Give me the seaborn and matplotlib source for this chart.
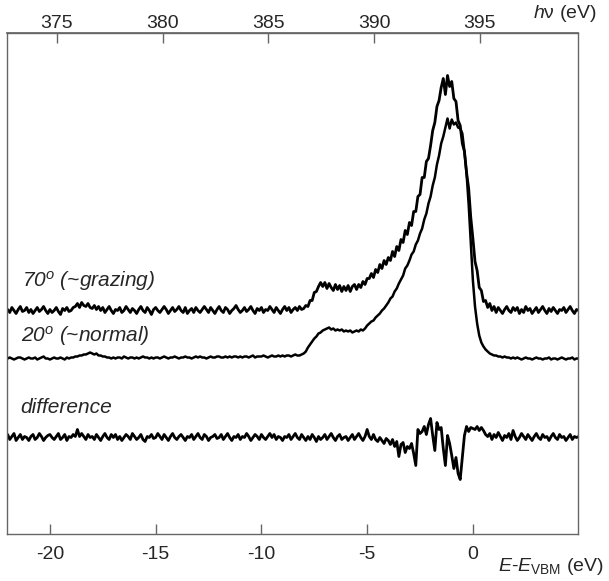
import numpy as np
import pandas as pd
import matplotlib
matplotlib.use("Agg")
import matplotlib.pyplot as plt
import seaborn as sns

sns.set_theme(style="white")
plt.rcParams["font.family"] = ["Liberation Sans", "DejaVu Sans"]
plt.rcParams["mathtext.fontset"] = "custom"
plt.rcParams["mathtext.rm"] = "Liberation Sans"
plt.rcParams["mathtext.it"] = "Liberation Sans:italic"
plt.rcParams["mathtext.bf"] = "Liberation Sans:bold"

# ---------------- data ----------------
energy = np.round(np.linspace(-22.0, 5.0, 271), 1)   # E - E_VBM (eV), 0.1 eV steps

grazing_70 = [
    1, -2, 3, 0, -3, 1, 4, -1, 0, 3,
    -2, 1, -3, 0, 3, -1, 1, 4, 0, -3,
    1, -2, 0, 3, -1, -4, 2, 0, 3, -1,
    0, 3, 4, 7, 3, 8, 5, 4, 7, 3,
    2, 5, 1, 4, 0, 3, -2, 1, 4, 0,
    -3, 1, 0, 3, -2, 0, 4, 1, -2, 2,
    0, -3, 1, 4, 0, -2, 3, 0, -4, 1,
    3, 0, -2, 1, 4, 1, -3, 0, 3, -1,
    1, 4, 0, -2, 3, -3, 0, 2, -2, 3,
    0, -2, 1, 4, 1, -2, 3, 0, -3, 1,
    4, 0, -2, 3, 1, -3, 0, 2, 5, 1,
    -2, 0, 3, -1, 1, 4, 0, -3, 2, 0,
    3, -2, 1, 0, 4, 1, -2, 3, 0, -3,
    1, 4, 0, 3, -2, 1, 3, 0, 4, 1,
    2, 5, 4, 10, 10, 18, 19, 24, 28, 24,
    28, 22, 27, 23, 20, 26, 21, 25, 19, 24,
    20, 25, 19, 24, 26, 21, 26, 23, 29, 26,
    32, 32, 37, 33, 41, 38, 46, 42, 50, 46,
    53, 50, 59, 54, 64, 60, 71, 68, 80, 76,
    88, 85, 99, 99, 114, 116, 133, 133, 149, 152,
    165, 180, 188, 204, 210, 223, 232, 216, 235, 224,
    229, 212, 209, 190, 185, 167, 159, 138, 122, 93,
    72, 49, 40, 23, 20, 9, 10, 3, 7, 0,
    4, -2, 3, 0, -3, 1, 4, 0, -2, 3,
    0, 3, -3, 1, -2, 4, 0, 2, -3, 0,
    3, -2, 1, 4, 0, -3, 2, -1, 3, 0,
    -3, 1, 0, 3, -2, 1, 4, 0, -3, 1,
    0,
]

normal_20 = [
    0, 1, 0, -1, 0, 1, 1, 0, -1, 0,
    1, 0, 0, 1, -1, 0, 1, 2, 0, 0,
    -1, 0, 1, 0, 0, 1, 0, -1, 1, 0,
    1, 1, 2, 2, 3, 3, 4, 4, 5, 6,
    5, 4, 5, 3, 3, 2, 2, 1, 1, 0,
    1, 0, 1, 1, 0, 2, 1, 0, 1, 1,
    0, 1, 0, 1, 2, 1, 1, 0, 1, 0,
    1, 1, 0, 1, 2, 1, 0, 1, 1, 2,
    1, 0, 1, 1, 2, 1, 1, 0, 1, 2,
    1, 2, 1, 1, 0, 1, 2, 1, 1, 2,
    2, 1, 1, 2, 1, 2, 1, 2, 2, 1,
    2, 1, 2, 2, 1, 2, 3, 1, 2, 2,
    2, 3, 2, 1, 2, 3, 2, 2, 3, 2,
    3, 2, 3, 3, 2, 3, 4, 3, 3, 4,
    5, 7, 11, 14, 17, 20, 22, 25, 26, 28,
    29, 30, 31, 29, 30, 28, 29, 28, 29, 27,
    28, 27, 28, 26, 27, 28, 27, 29, 28, 30,
    33, 35, 37, 38, 41, 43, 45, 48, 50, 53,
    56, 60, 62, 67, 70, 75, 79, 83, 90, 93,
    98, 104, 107, 114, 118, 125, 130, 139, 145, 155,
    162, 173, 181, 194, 203, 215, 222, 231, 240, 230,
    239, 234, 236, 231, 230, 225, 207, 185, 154, 116,
    78, 52, 35, 23, 16, 12, 9, 7, 5, 4,
    3, 3, 2, 2, 1, 2, 1, 1, 0, 1,
    0, 1, 0, -1, 0, 1, 0, 0, -1, 0,
    1, 0, 0, -1, 0, 0, 1, -1, 0, 0,
    -1, 0, 1, 0, -1, 0, 0, 1, -1, 0,
    0,
]

difference = [
    3, -2, 1, 4, -3, 0, 3, -2, 1, 0,
    -3, 1, 3, -2, 0, 4, 1, -3, 0, 2,
    3, 0, -2, 1, 4, -2, 0, 3, -3, 1,
    0, 3, 1, 8, 1, 4, 1, -2, 3, 0,
    1, -2, 3, 0, -3, 1, 4, 0, -2, 3,
    0, 3, -2, 1, -3, 0, 3, 1, -2, 4,
    1, -2, 0, 3, -2, -4, 1, 0, 3, -1,
    0, 4, 1, -2, 3, 0, -3, 1, 4, 0,
    -2, 1, 3, 0, -3, 1, 0, 3, -2, 1,
    4, 0, -2, 3, 1, -3, 0, 1, 3, -1,
    0, 3, -2, 1, 4, 0, -3, 1, 0, 3,
    -2, 1, 0, 4, 1, -3, 0, 3, 1, -2,
    3, 0, -2, 1, 4, 0, 3, -2, 1, 0,
    -3, 1, 0, 3, -2, 1, 4, 0, -2, 3,
    0, -3, 1, -2, 3, 0, -4, 1, -2, 0,
    3, -2, 1, 4, 0, -3, 1, 3, -2, 0,
    1, -3, 0, 3, -2, 1, 4, 0, -3, 1,
    8, 1, -2, 3, -2, -4, 0, -3, -6, -1,
    -3, -7, -2, -9, -4, -19, -7, -5, -15, -9,
    -11, -6, -16, -28, 8, 4, 6, 11, 3, 13,
    19, 2, -13, 15, 8, 10, -11, -28, 2, -6,
    -18, -31, -20, -36, -42, -20, 2, 11, 6, 10,
    9, 8, 11, 7, 10, 7, 3, 1, 4, -2,
    3, 0, 5, 1, -3, 2, 0, 4, -2, 7,
    1, -3, 0, 4, 1, -2, 3, 0, -3, 1,
    4, 0, -2, 3, 0, 1, -3, 1, 4, 0,
    -2, 3, 0, 1, -3, 0, 3, -2, 1, 0,
    1,
]

curve_names = ["70$^{o}$ (~grazing)", "20$^{o}$ (~normal)", "difference"]
bottom_ticks = [-20, -15, -10, -5, 0]
top_ticks = [375, 380, 385, 390, 395]
hv_at_vbm = 394.67   # photon energy corresponding to E - E_VBM = 0

# ---------------- layout / style ----------------
baselines = [223.5, 175.5, 96.5]          # vertical offsets of the stacked spectra
label_pos = [(-21.3, 247), (-21.35, 192), (-21.4, 121)]
line_widths = [2.0, 1.8, 2.0]
frame_col = "#666666"

df = pd.concat([
    pd.DataFrame({"E": energy, "I": np.asarray(vals, float) + base, "curve": name})
    for name, vals, base in zip(curve_names, [grazing_70, normal_20, difference], baselines)
], ignore_index=True)

fig = plt.figure(figsize=(6.09, 5.81), dpi=100)
ax = fig.add_axes([7 / 609, 47 / 581, 571 / 609, 501 / 581])

for name, lw in zip(curve_names, line_widths):
    sub = df[df["curve"] == name]
    sns.lineplot(data=sub, x="E", y="I", ax=ax, color="black", lw=lw,
                 estimator=None, sort=False, legend=False)

for name, (lx, ly) in zip(curve_names, label_pos):
    ax.text(lx, ly, name, fontsize=15, style="italic", va="baseline", ha="left")

ax.set_xlim(-22.03, 4.97)
ax.set_ylim(0, 501)
ax.set_yticks([])
ax.set_xlabel("")
ax.set_ylabel("")
ax.set_xticks(bottom_ticks)
ax.set_xticklabels([str(t) for t in bottom_ticks])
ax.tick_params(axis="x", direction="in", length=7, width=1, color=frame_col,
               pad=8.5, labelsize=14, bottom=True)
for sp in ax.spines.values():
    sp.set_color(frame_col)
    sp.set_linewidth(1.0)
    sp.set_visible(True)

sec = ax.secondary_xaxis("top", functions=(lambda e: e + hv_at_vbm,
                                            lambda h: h - hv_at_vbm))
sec.set_xticks(top_ticks)
sec.set_xticklabels([str(t) for t in top_ticks])
sec.tick_params(axis="x", direction="in", length=7, width=1, color=frame_col,
                pad=0.5, labelsize=14)
sec.spines["top"].set_color(frame_col)

fig.text(498 / 609, 1 - 571 / 581, r"$E$-$E_{\mathrm{VBM}}$ (eV)", fontsize=14,
         ha="left", va="baseline")
fig.text(533 / 609, 1 - 18 / 581, r"$h$ν (eV)", fontsize=14,
         ha="left", va="baseline")

fig.savefig("out.png", dpi=100)
